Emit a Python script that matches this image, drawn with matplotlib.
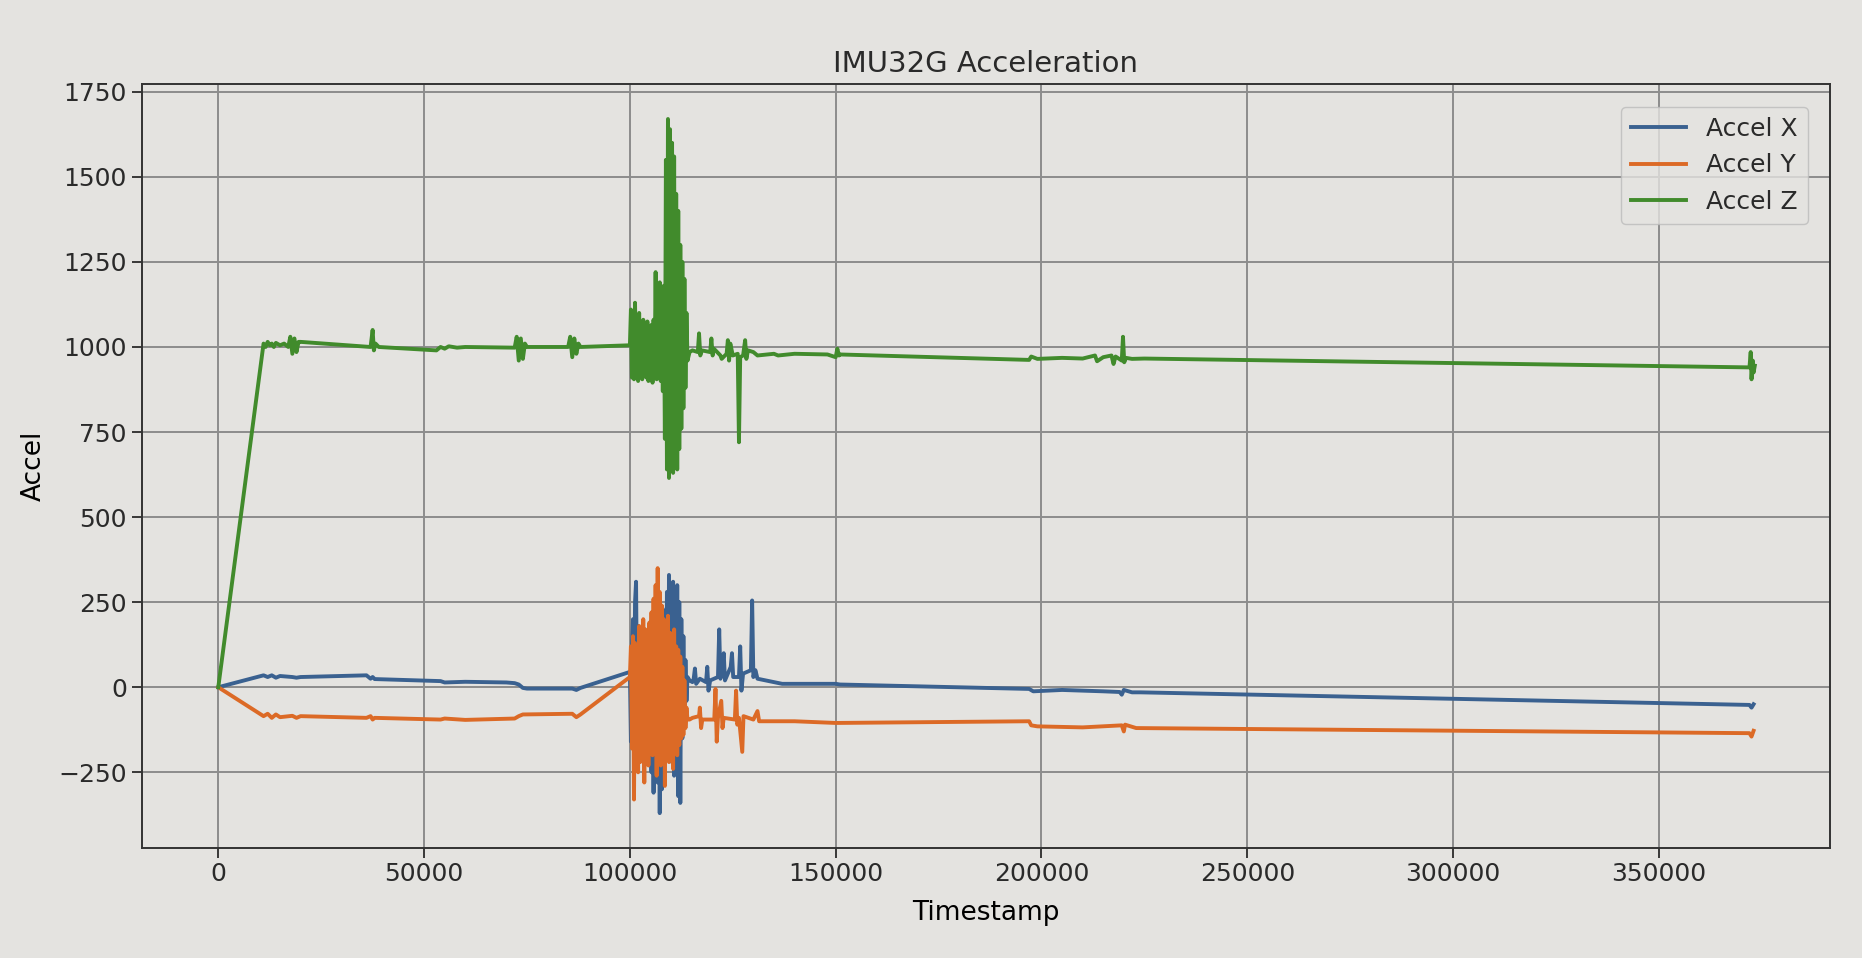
import matplotlib
matplotlib.use("Agg")
import matplotlib.pyplot as plt
from matplotlib.ticker import MultipleLocator

# ── Quiet stretches before the shock (timestamp, value) ─────────────────────
pre_t_x = [0, 11000, 12000, 13000, 14000, 15000, 18000, 19000, 20000, 36000,
           37000, 37500, 38000, 54000, 55000, 60000, 70000, 72000, 73000, 74000,
           75000, 86000, 87000, 88000]
pre_x = [0, 35, 30, 35, 28, 33, 30, 28, 30, 35,
         25, 30, 24, 18, 14, 16, 14, 12, 8, -2,
         -4, -4, -8, -2]

pre_t_y = [0, 11000, 12000, 13000, 14000, 15000, 18000, 19000, 20000, 36000,
           37000, 37500, 38000, 54000, 55000, 60000, 72000, 73000, 74000, 86000,
           87000, 88000]
pre_y = [0, -85, -78, -90, -80, -88, -84, -90, -85, -90,
         -85, -95, -90, -95, -92, -96, -92, -85, -80, -78,
         -88, -80]

pre_t_z = [0, 11000, 11500, 12000, 12500, 13000, 13500, 14000, 15000, 16000,
           17000, 17500, 18000, 18500, 19000, 19500, 20000, 37000, 37500, 37800,
           38200, 39000, 53000, 54000, 55000, 56000, 58000, 60000, 72000, 72500,
           73000, 73500, 74000, 74500, 75000, 85000, 85500, 86000, 86500, 87000,
           87500, 88000]
pre_z = [0, 1010, 1000, 1015, 1005, 1010, 1000, 1012, 1005, 1010,
         1000, 1030, 980, 1025, 985, 1015, 1015, 1000, 1050, 990,
         1010, 1000, 990, 1000, 995, 1002, 998, 1000, 998, 1030,
         960, 1025, 965, 1010, 1000, 1000, 1030, 970, 1025, 980,
         1010, 1000]

# ── The shock (shared sample times) ─────────────────────────────────────────
burst_t = [100000, 100250, 100500, 100750, 101000, 101250, 101500, 101750, 102000, 102250,
           102500, 102750, 103000, 103250, 103500, 103750, 104000, 104250, 104500, 104750,
           105000, 105250, 105500, 105750, 106000, 106250, 106500, 106750, 107000, 107250,
           107500, 107750, 108000, 108250, 108500, 108750, 109000, 109250, 109500, 109750,
           110000, 110250, 110500, 110750, 111000, 111250, 111500, 111750, 112000, 112250,
           112500, 112750, 113000, 113250, 113500, 113750, 114000]
burst_x = [45, -160, 120, 200, -120, 250, 310, -80, 180, -150,
           140, -100, 120, -180, 90, -120, 150, -200, 110, -170,
           160, -250, 130, -310, 180, -200, 220, -280, 200, -370,
           160, -300, 230, -240, 190, -200, 280, -180, 330, -150,
           300, -220, 310, -260, 280, -200, 300, -320, 250, -340,
           200, -150, 150, -100, 80, -40, 30]
burst_y = [30, 120, -180, 150, -330, 130, -200, 100, -250, 180,
           -220, 140, -150, 200, -280, 170, -180, 150, -230, 190,
           -160, 220, -200, 260, -180, 300, -260, 350, -150, 280,
           -230, 240, -200, 200, -290, 180, -160, 210, -220, 160,
           -180, 140, -240, 170, -150, 120, -200, 110, -170, 90,
           -150, 60, -140, 20, -120, -60, -95]
burst_z = [1005, 1110, 910, 1080, 905, 1130, 920, 1090, 900, 1100,
           915, 1070, 905, 1080, 925, 1060, 910, 1075, 900, 1050,
           920, 1065, 895, 1080, 910, 1220, 905, 1060, 915, 1190,
           900, 1140, 870, 1180, 730, 1550, 640, 1670, 615, 1640,
           650, 1600, 630, 1560, 680, 1450, 640, 1400, 700, 1300,
           760, 1250, 820, 1200, 880, 1100, 960]

# ── After the shock ─────────────────────────────────────────────────────────
post_t_x = [114500, 115200, 115500, 115800, 116100, 117000, 118500, 118800, 119100, 119500,
            121400, 121700, 122000, 122500, 122800, 123100, 124500, 124800, 125100, 126500,
            126800, 127100, 127500, 129400, 129700, 130000, 130500, 131000, 133000, 135000,
            137000, 150000, 151000, 197000, 198000, 205000, 210000, 215000, 219000, 219500,
            220000, 222000, 224000, 372000, 372500, 373000]
post_x = [20, 15, 25, 55, 10, 25, 15, 60, -10, 20,
          30, 170, 25, 70, 100, 20, 60, 100, 30, 30,
          120, -10, 40, 50, 255, 30, 50, 25, 20, 15,
          10, 10, 8, -5, -12, -8, -10, -12, -14, -22,
          -8, -15, -15, -52, -60, -50]

post_t_y = [114500, 115200, 116800, 117000, 117300, 117600, 120500, 120800, 121100, 121400,
            122200, 122500, 122800, 125500, 125800, 126100, 126500, 127300, 127600, 130000,
            131000, 131400, 135000, 140000, 150000, 197000, 197500, 199000, 210000, 219500,
            220000, 220300, 223000, 372000, 372500, 373000]
post_y = [-95, -90, -85, -60, -120, -95, -95, -5, -160, -90,
          -40, -120, -90, -95, -10, -110, -90, -190, -85, -95,
          -70, -100, -100, -100, -105, -100, -112, -115, -118, -112,
          -130, -110, -120, -135, -145, -128]

post_t_z = [114500, 115200, 116500, 116800, 117100, 117500, 119500, 119800, 120100, 120400,
            122000, 122300, 123500, 123800, 124100, 124400, 125000, 126200, 126500, 126800,
            127500, 128000, 128300, 128700, 130000, 131000, 135000, 136000, 140000, 148000,
            150000, 150400, 150800, 151000, 197000, 197500, 199000, 205000, 210000, 213000,
            213500, 215000, 217000, 217500, 218000, 219500, 219800, 220100, 220500, 222000,
            225000, 372000, 372300, 372500, 372800, 373000, 373300]
post_z = [985, 990, 985, 1040, 975, 990, 985, 1025, 975, 995,
          975, 965, 980, 1020, 960, 1010, 975, 980, 720, 970,
          975, 1020, 965, 990, 985, 975, 980, 975, 980, 978,
          970, 995, 975, 978, 962, 972, 965, 968, 966, 975,
          958, 970, 975, 950, 972, 960, 1030, 955, 968, 965,
          966, 940, 985, 905, 960, 925, 945]

series = [
    ("Accel X", pre_t_x + burst_t + post_t_x, pre_x + burst_x + post_x, "#3a6190"),
    ("Accel Y", pre_t_y + burst_t + post_t_y, pre_y + burst_y + post_y, "#dc6a26"),
    ("Accel Z", pre_t_z + burst_t + post_t_z, pre_z + burst_z + post_z, "#418b2c"),
]

BG = "#e4e3e0"
plt.rcParams.update({"font.family": "DejaVu Sans", "text.color": "#2a2a2a"})

fig = plt.figure(figsize=(18.62, 9.58), dpi=100, facecolor=BG)
ax = fig.add_axes([0.076, 0.115, 0.907, 0.797], facecolor=BG)

for label, t, v, color in series:
    ax.plot(t, v, color=color, linewidth=2.8, label=label)

ax.set_xlim(-18650, 391650)
ax.set_ylim(-472, 1772)
ax.xaxis.set_major_locator(MultipleLocator(50000))
ax.yaxis.set_major_locator(MultipleLocator(250))
ax.grid(True, color="#8c8c8c", linewidth=1.4)
ax.set_axisbelow(True)
for sp in ax.spines.values():
    sp.set_color("#333333")
    sp.set_linewidth(1.4)
ax.tick_params(labelsize=18, colors="#2a2a2a", length=7, width=1.3)

ax.set_title("IMU32G Acceleration", fontsize=21, pad=9)
ax.set_xlabel("Timestamp", fontsize=19, labelpad=10)
ax.set_ylabel("Accel", fontsize=19, labelpad=8)

leg = ax.legend(loc="upper right", fontsize=18, framealpha=0.8,
                facecolor=BG, edgecolor="#bbbbbb", handlelength=2.2,
                borderaxespad=0.9)

fig.savefig("out.png", dpi=100, facecolor=BG)
